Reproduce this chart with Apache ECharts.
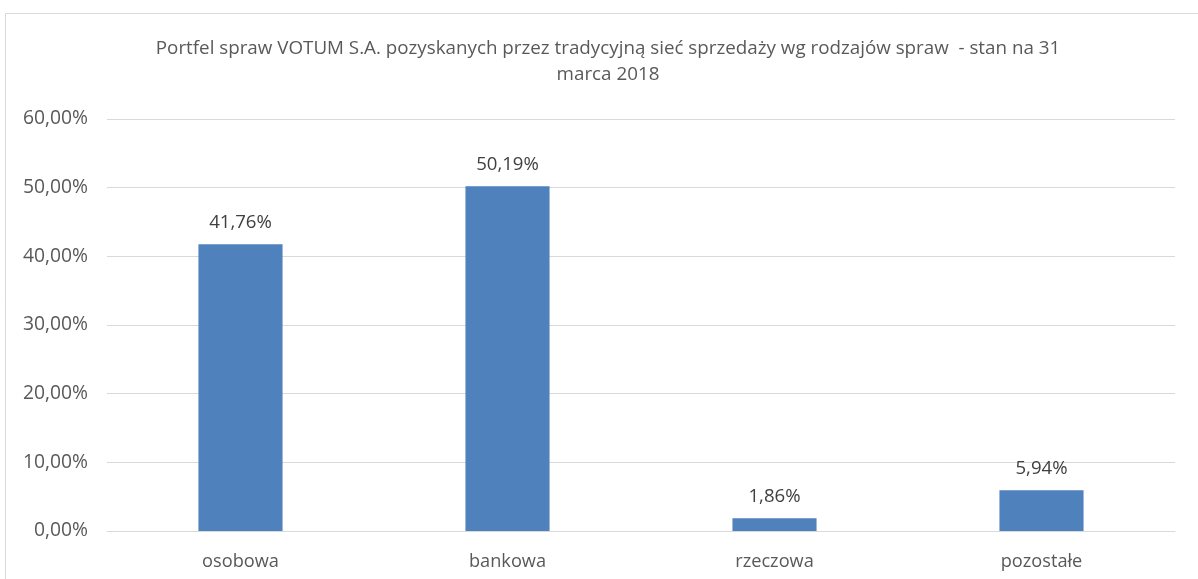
<!DOCTYPE html>
<html><head><meta charset="utf-8">
<script src="https://cdn.jsdelivr.net/npm/echarts@6/dist/echarts.min.js"></script>
<style>html,body{margin:0;padding:0;background:#fff}#c{width:1198px;height:579px}</style>
</head><body><div id="c"></div>
<script>
const categories = ['osobowa', 'bankowa', 'rzeczowa', 'pozostałe'];
const values = [41.76, 50.19, 1.86, 5.94];
const titleText = 'Portfel spraw VOTUM S.A. pozyskanych przez tradycyjną sieć sprzedaży wg rodzajów spraw  - stan na 31\nmarca 2018';
const fmt = v => v.toFixed(2).replace('.', ',') + '%';
const font = '"Open Sans", "Liberation Sans", sans-serif';
const chart = echarts.init(document.getElementById('c'));
chart.setOption({
  animation: false,
  graphic: [{type: 'rect', shape: {x: 5.5, y: 13.5, width: 1250, height: 650}, style: {fill: 'none', stroke: '#d9d9d9', lineWidth: 1}, silent: true}],
  title: {text: titleText, left: 603, top: 31, textAlign: 'center',
    textStyle: {fontFamily: font, fontSize: 18.8, fontWeight: 'normal', color: '#595959', lineHeight: 26}},
  grid: {left: 107, right: 23, top: 119, bottom: 48, containLabel: false},
  xAxis: {type: 'category', data: categories,
    axisLine: {lineStyle: {color: '#d9d9d9'}}, axisTick: {show: false},
    axisLabel: {fontFamily: font, fontSize: 18.2, color: '#595959', margin: 22}},
  yAxis: {type: 'value', min: 0, max: 60, interval: 10,
    axisLine: {show: false}, axisTick: {show: false},
    splitLine: {lineStyle: {color: '#d9d9d9'}},
    axisLabel: {fontFamily: font, fontSize: 19.3, color: '#595959', margin: 19, formatter: v => fmt(v)}},
  series: [{type: 'bar', data: values, barWidth: '31.5%',
    itemStyle: {color: '#4f81bd'},
    label: {show: true, position: 'top', distance: 12, fontFamily: font, fontSize: 18.6, color: '#404040', formatter: p => fmt(p.value)}}]
});
</script></body></html>
